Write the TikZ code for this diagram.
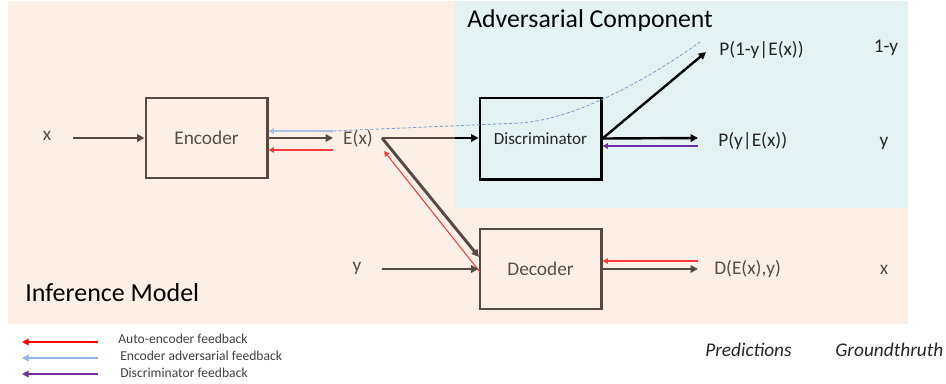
\documentclass[tikz,border=0pt]{standalone}
\usepackage{fontspec}
\setmainfont{Carlito}
\usetikzlibrary{arrows.meta}
\definecolor{peach}{HTML}{FCEFE6}
\definecolor{advblue}{HTML}{E4F2F4}
\definecolor{boxbrown}{HTML}{584A40}
\definecolor{labgray}{HTML}{5A4F48}
\definecolor{fbred}{HTML}{FF3C3C}
\definecolor{lgred}{HTML}{FF0000}
\definecolor{fbblue}{HTML}{A9BFE3}
\definecolor{lgblue}{HTML}{8FB4E3}
\definecolor{fbpurple}{HTML}{7030A0}
\definecolor{dashblue}{HTML}{7E9CCB}
\tikzset{
  lab/.style={font=\fontsize{14.5}{17}\selectfont, text=labgray, inner sep=0pt},
  dlab/.style={font=\fontsize{14.5}{17}\selectfont, text=black!85, inner sep=0pt},
  blockbox/.style={draw=boxbrown, line width=2pt, minimum width=91pt, minimum height=60pt, inner sep=0pt,
     font=\fontsize{14.5}{17}\selectfont, text=labgray},
  discbox/.style={draw=black, line width=2pt, minimum width=91pt, minimum height=61pt, inner sep=0pt,
     font=\fontsize{12.8}{15}\selectfont, text=black!85},
  arr/.style={draw=boxbrown, line width=1.8pt, -{Triangle[length=5.5pt,width=5.5pt]}},
  barr/.style={draw=black, line width=1.8pt, -{Triangle[length=5.5pt,width=5.5pt]}},
  fb/.style={line width=0.8pt, -{Triangle[length=4pt,width=4pt]}},
  lg/.style={line width=1.1pt, -{Triangle[length=5pt,width=5pt]}},
  lgtext/.style={font=\fontsize{10.2}{12}\selectfont, text=black!75, anchor=west, inner sep=0pt},
  title/.style={font=\fontsize{19.3}{22}\selectfont, text=black, inner sep=0pt},
}
\begin{document}
\begin{tikzpicture}[x=0.75pt,y=-0.75pt]
\useasboundingbox (0,0) rectangle (946,383);
% backgrounds
\fill[peach] (8,1) rectangle (908,324);
\fill[advblue] (455,1) rectangle (908,208);
% titles
\node[title, anchor=west] (advt) at (467,21) {Adversarial Component};
\node[title, anchor=west, font=\fontsize{19.5}{22}\selectfont] (inft) at (25,293) {Inference Model};
% blocks
\node[blockbox] (enc) at (206.5,138) {Encoder};
\node[discbox] (disc) at (540.5,138.5) {Discriminator};
\node[blockbox] (dec) at (540.5,269) {Decoder};
% labels
\node[lab] (xin) at (47,136) {x};
\node[lab] (ex) at (358,139) {E(x)};
\node[lab] (yin) at (357,268) {y};
\node[dlab, anchor=west] (p1) at (719,50) {P(1-y|E(x))};
\node[dlab, anchor=west] (py) at (718,141) {P(y|E(x))};
\node[lab, anchor=west] (dout) at (714,269) {D(E(x),y)};
\node[dlab] (g1) at (886,48) {1-y};
\node[dlab] (gy) at (884,143) {y};
\node[lab] (gx) at (884,270) {x};
\node[font=\itshape\fontsize{14.5}{17}\selectfont, text=black!85, anchor=west, inner sep=0pt] (pred) at (705,350) {Predictions};
\node[font=\itshape\fontsize{14.5}{17}\selectfont, text=black!85, anchor=west, inner sep=0pt] (gt) at (835,350) {Groundthruth};
% coordinates
\coordinate (xs) at (73,138);
\coordinate (exin) at (333,138);
\coordinate (bfb) at (333,131);
\coordinate (rfb) at (333,150);
\coordinate (exr) at (382,138);
\coordinate (bdry) at (455,138);
\coordinate (decin) at (479,257);
\coordinate (rdec) at (480,272);
\coordinate (rex) at (384,151);
\coordinate (ys) at (382,269);
\coordinate (p1in) at (706,52);
\coordinate (pyin) at (698,138);
\coordinate (pfb) at (698,146);
\coordinate (dend) at (698,269);
\coordinate (dfb) at (698,261);
\coordinate (dsh) at (520,123);
\coordinate (dse) at (700,42);
% connectors
\draw[arr] (xs) -- (xs -| enc.west);
\draw[arr] (enc.east |- exin) -- (exin);
\draw[fb, draw=fbblue] (bfb) -- (bfb -| enc.east);
\draw[fb, draw=fbred] (rfb) -- (rfb -| enc.east);
\draw[dashed, dash pattern=on 2.5pt off 1.5pt, draw=dashblue, line width=0.6pt]
   (bfb) -- (dsh) .. controls (570,120) and (640,85) .. (dse);
\draw[draw=boxbrown, line width=1.8pt] (exr) -- (bdry);
\draw[barr] (bdry) -- (bdry -| disc.west);
\draw[arr, line width=2.2pt] (exr) -- (decin);
\draw[fb, draw=fbred] (rdec) -- (rex);
\draw[arr] (ys) -- (ys -| dec.west);
\draw[barr] (disc.east) -- (p1in);
\draw[barr] (disc.east) -- (pyin);
\draw[fb, draw=fbpurple, line width=1pt] (pfb) -- (pfb -| disc.east);
\draw[arr] (dec.east) -- (dend);
\draw[fb, draw=fbred] (dfb) -- (dfb -| dec.east);
% legend
\coordinate (l1s) at (98,342); \coordinate (l1e) at (22,342);
\coordinate (l2s) at (98,358); \coordinate (l2e) at (22,358);
\coordinate (l3s) at (98,374); \coordinate (l3e) at (22,374);
\draw[lg, draw=lgred] (l1s) -- (l1e);
\draw[lg, draw=lgblue] (l2s) -- (l2e);
\draw[lg, draw=fbpurple] (l3s) -- (l3e);
\node[lgtext] (lt1) at (118,339) {Auto-encoder feedback};
\node[lgtext] (lt2) at (120,356) {Encoder adversarial feedback};
\node[lgtext] (lt3) at (120,373) {Discriminator feedback};
\end{tikzpicture}
\end{document}
